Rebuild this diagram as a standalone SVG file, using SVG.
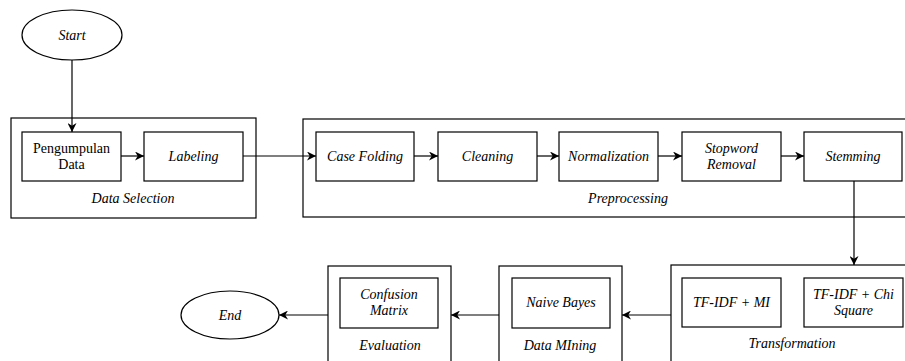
<svg xmlns="http://www.w3.org/2000/svg" width="905" height="361" viewBox="0 0 905 361">
<style>
.b{fill:#fff;stroke:#000;stroke-width:1.2}
.c{fill:none;stroke:#000;stroke-width:1.2}
text{font-family:'Liberation Serif','Times New Roman',serif;font-size:14px;text-anchor:middle;fill:#000}
.i{font-style:italic}
</style>
<defs>
<marker id="a" viewBox="0 0 10 10" refX="10" refY="5" markerWidth="9" markerHeight="9" markerUnits="userSpaceOnUse" orient="auto">
<path d="M0,0 L10,5 L0,10 L3,5 Z" fill="#000"/>
</marker>
</defs>
<rect x="0" y="0" width="905" height="361" fill="#fff"/>
<g id="data-selection"><rect class="b" x="11" y="118" width="245" height="100"/><text class="i" x="133" y="203">Data Selection</text></g>
<g id="preprocessing"><rect class="b" x="303" y="119" width="660" height="98"/><text class="i" x="628" y="203">Preprocessing</text></g>
<g id="transformation"><rect class="b" x="671" y="265" width="290" height="110"/><text class="i" x="792" y="348">Transformation</text></g>
<g id="data-mining"><rect class="b" x="499" y="266" width="123" height="110"/><text class="i" x="560" y="350">Data MIning</text></g>
<g id="evaluation"><rect class="b" x="328" y="266" width="123" height="110"/><text class="i" x="390" y="350">Evaluation</text></g>
<g id="start"><ellipse class="b" cx="72" cy="35" rx="50" ry="25"/><text class="i" x="72" y="40">Start</text></g>
<g id="pengumpulan"><rect class="b" x="22" y="132" width="99" height="49"/><text x="71.5" y="153">Pengumpulan</text><text x="71.5" y="169">Data</text></g>
<g id="labeling"><rect class="b" x="144" y="132" width="99" height="49"/><text class="i" x="193.5" y="161">Labeling</text></g>
<g id="case-folding"><rect class="b" x="316" y="132" width="98" height="49"/><text class="i" x="365" y="161">Case Folding</text></g>
<g id="cleaning"><rect class="b" x="438" y="132" width="99" height="49"/><text class="i" x="487.5" y="161">Cleaning</text></g>
<g id="normalization"><rect class="b" x="559" y="132" width="99" height="49"/><text class="i" x="608.5" y="161">Normalization</text></g>
<g id="stopword"><rect class="b" x="682" y="132" width="99" height="49"/><text class="i" x="731.5" y="153">Stopword</text><text class="i" x="731.5" y="169">Removal</text></g>
<g id="stemming"><rect class="b" x="804" y="132" width="98" height="49"/><text class="i" x="853" y="161">Stemming</text></g>
<g id="tfidf-mi"><rect class="b" x="682" y="278" width="99" height="49"/><text class="i" x="731.5" y="307">TF-IDF + MI</text></g>
<g id="tfidf-chi"><rect class="b" x="804" y="278" width="99" height="49"/><text class="i" x="853.5" y="299">TF-IDF + Chi</text><text class="i" x="853.5" y="315">Square</text></g>
<g id="naive-bayes"><rect class="b" x="512" y="278" width="98" height="50"/><text class="i" x="561" y="307">Naive Bayes</text></g>
<g id="confusion"><rect class="b" x="340" y="278" width="98" height="50"/><text class="i" x="389" y="299">Confusion</text><text class="i" x="389" y="315">Matrix</text></g>
<g id="end"><ellipse class="b" cx="230" cy="315" rx="49" ry="24"/><text class="i" x="230" y="320">End</text></g>
<g id="connectors">
<line class="c" x1="72" y1="60" x2="72" y2="132" marker-end="url(#a)"/>
<line class="c" x1="121" y1="156" x2="144" y2="156" marker-end="url(#a)"/>
<line class="c" x1="243" y1="156" x2="316" y2="156" marker-end="url(#a)"/>
<line class="c" x1="414" y1="156" x2="438" y2="156" marker-end="url(#a)"/>
<line class="c" x1="537" y1="156" x2="559" y2="156" marker-end="url(#a)"/>
<line class="c" x1="658" y1="156" x2="682" y2="156" marker-end="url(#a)"/>
<line class="c" x1="781" y1="156" x2="804" y2="156" marker-end="url(#a)"/>
<line class="c" x1="854" y1="181" x2="854" y2="265" marker-end="url(#a)"/>
<line class="c" x1="671" y1="315" x2="622" y2="315" marker-end="url(#a)"/>
<line class="c" x1="499" y1="315" x2="451" y2="315" marker-end="url(#a)"/>
<line class="c" x1="328" y1="315" x2="279" y2="315" marker-end="url(#a)"/>
</g>
</svg>
